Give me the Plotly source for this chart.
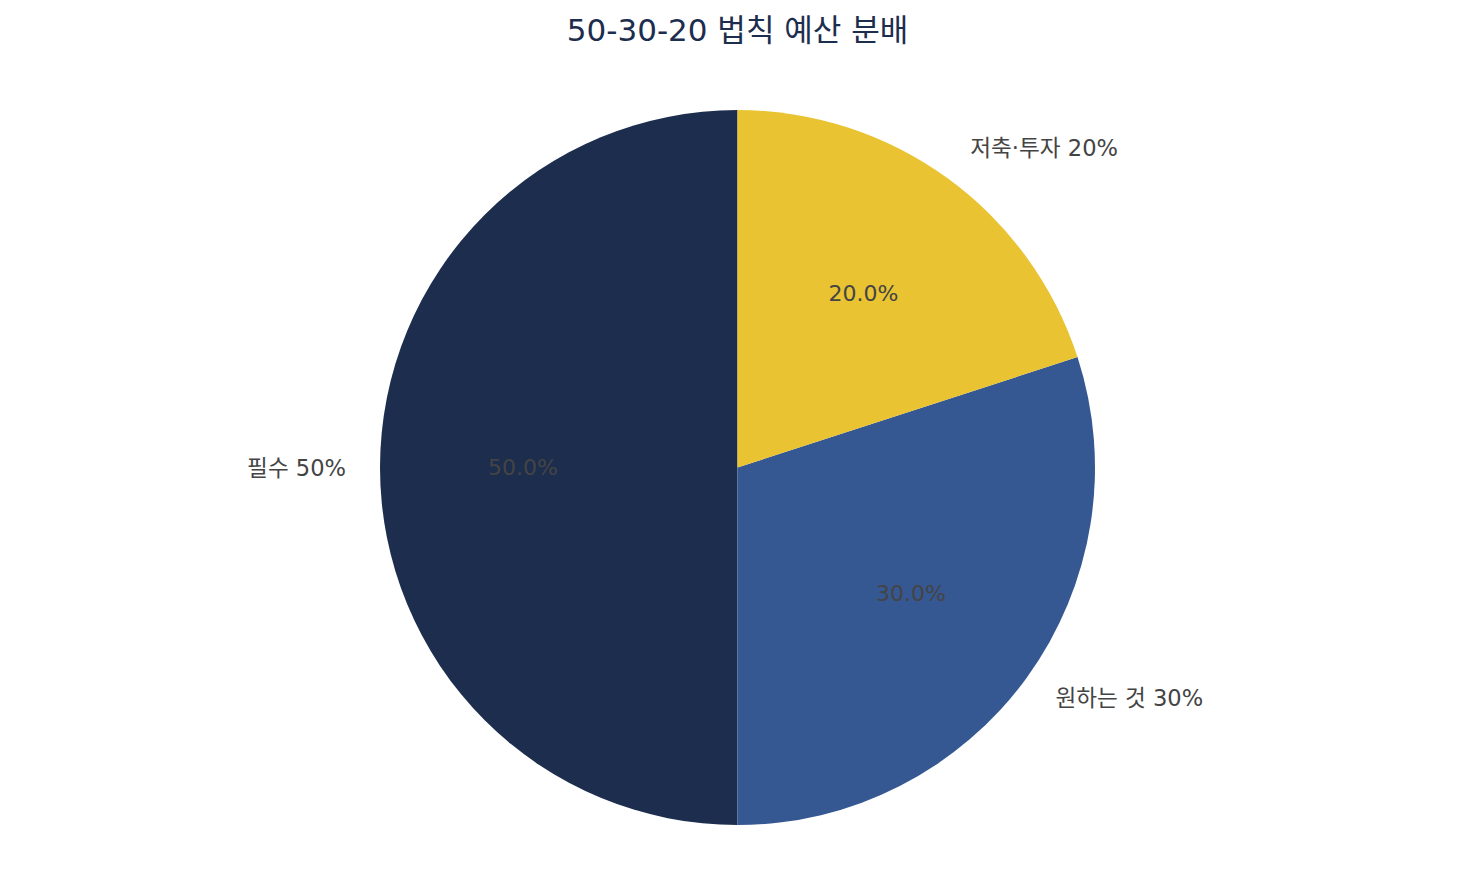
import plotly.graph_objects as go

categories = ['필수', '원하는 것', '저축·투자']
values = [50, 30, 20]
colors = ['#1c2d4e', '#365892', '#e9c332']

label_text = [f'{c} {v}%' for c, v in zip(categories, values)]

font_family = 'DejaVu Sans, Noto Sans CJK KR'
common = dict(labels=categories, values=values, sort=False,
              direction='counterclockwise', rotation=180, showlegend=False)

fig = go.Figure()

# invisible, slightly bigger pie that only carries the outer labels
fig.add_trace(go.Pie(
    **common,
    domain=dict(x=[0, 1], y=[0.026, 0.958]),
    marker=dict(colors=['rgba(0,0,0,0)'] * 3, line=dict(width=0)),
    text=label_text, textinfo='text', textposition='outside',
    outsidetextfont=dict(size=22.6, color='#444444', family=font_family),
    hoverinfo='skip',
))

fig.add_trace(go.Pie(
    **common,
    domain=dict(x=[0, 1], y=[0.0593, 0.9249]),
    marker=dict(colors=colors, line=dict(width=0)),
    textinfo='none',
))

# invisible ring so the percentages sit at ~60% of the radius
fig.add_trace(go.Pie(
    **common,
    hole=0.6,
    domain=dict(x=[0, 1], y=[0.1676, 0.8167]),
    marker=dict(colors=['rgba(0,0,0,0)'] * 3, line=dict(width=0)),
    texttemplate='%{percent:.1%}', textposition='inside',
    insidetextorientation='horizontal',
    insidetextfont=dict(size=22, color='#444444', family=font_family),
    hoverinfo='skip',
))

fig.update_layout(
    width=1476, height=876,
    showlegend=False,
    margin=dict(l=0, r=17, t=40, b=10, autoexpand=False),
    paper_bgcolor='white', plot_bgcolor='white',
    font=dict(family=font_family, color='#444444'),
    title=dict(text='50-30-20 법칙 예산 분배', x=0.5, xref='paper', xanchor='center',
               y=1 - 22 / 876, yref='container', yanchor='middle',
               font=dict(size=31, color='#1c2d4e', family=font_family)),
)

fig.write_html('out.html')
